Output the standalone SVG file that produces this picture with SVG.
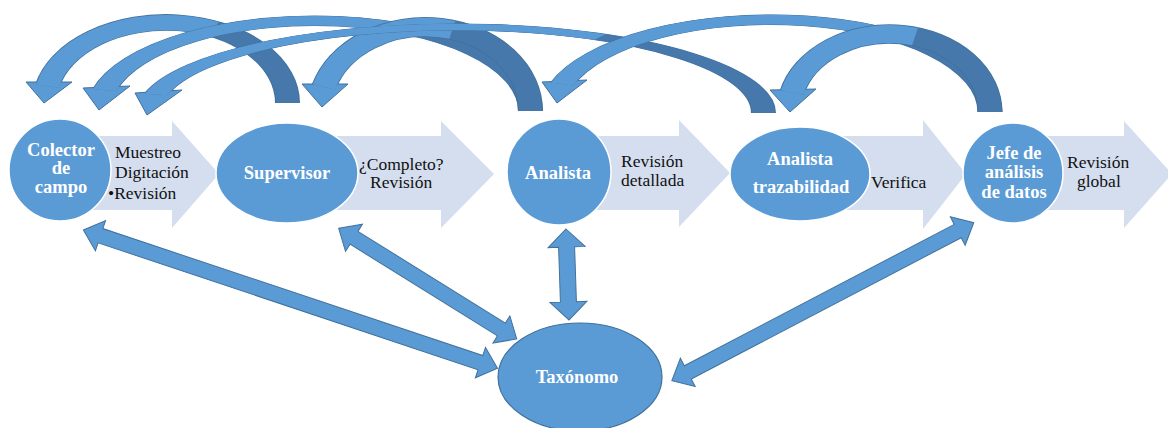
<svg xmlns="http://www.w3.org/2000/svg" width="1168" height="428" viewBox="0 0 1168 428">
<style>
.flow{fill:#D4DEEF}
.node{fill:#5B9BD5;stroke:#ffffff;stroke-width:1.5}
.tax{fill:#5B9BD5;stroke:#41719C;stroke-width:1.2}
.ntext{font-family:"Liberation Serif",serif;font-weight:bold;font-size:18.5px;fill:#ffffff;text-anchor:middle}
.ltext{font-family:"Liberation Serif",serif;font-size:17.5px;fill:#111111}
.dbl{fill:#5B9BD5;stroke:#41719C;stroke-width:1}
.edge{fill:none;stroke:#41719C;stroke-width:25}
.dark{fill:none;stroke:#4778AC;stroke-width:23}
.light{fill:none;stroke:#5B9BD5;stroke-width:23}
.head{fill:#5B9BD5;stroke:#41719C;stroke-width:1}
</style>
<rect width="1168" height="428" fill="#ffffff"/>
<g id="flow-arrows">
<polygon class="flow" points="60,136 172,136 172,121 219,174 172,228 172,210 60,210"/>
<polygon class="flow" points="287,136 441,136 441,121 494,174 441,228 441,210 287,210"/>
<polygon class="flow" points="559,136 679,136 679,120 730,173 679,227 679,210 559,210"/>
<polygon class="flow" points="800,136 923,136 923,120 966,174 923,229 923,210 800,210"/>
<polygon class="flow" points="1013,136 1124,136 1124,121 1172,174 1124,228 1124,210 1013,210"/>
</g>
<g id="connectors">
<g id="curve-sup-col">
<g transform="translate(166.1,103) scale(1,0.663)"><path class="edge" d="M121.4,0 A121.4,121.4 0 0 0 -118.7,-25.6"/></g>
<polygon class="head" points="26,82 72,82 44,103"/>
<g transform="translate(166.1,103) scale(1,0.663)"><path class="dark" d="M121.4,0 A121.4,121.4 0 0 0 -118.7,-25.6"/><path class="light" d="M48,-111.5 A121.4,121.4 0 0 0 -118.7,-25.6"/></g>
</g>
<g id="curve-ana-col">
<g transform="translate(314.6,111) scale(1,0.418)"><path class="edge" d="M215.9,0 A215.9,215.9 0 0 0 -210,-50.2"/></g>
<polygon class="head" points="83,88 130,86 99,110"/>
<g transform="translate(314.6,111) scale(1,0.418)"><path class="dark" d="M215.9,0 A215.9,215.9 0 0 0 -210,-50.2"/><path class="light" d="M105.4,-188.4 A215.9,215.9 0 0 0 -210,-50.2"/></g>
</g>
<g id="curve-ana-sup">
<g transform="translate(425,111) scale(1,0.796)"><path class="edge" d="M105.5,0 A105.5,105.5 0 0 0 -101.1,-30.2"/></g>
<polygon class="head" points="302,84 348,84 322,107"/>
<g transform="translate(425,111) scale(1,0.796)"><path class="dark" d="M105.5,0 A105.5,105.5 0 0 0 -101.1,-30.2"/><path class="light" d="M27.3,-101.9 A105.5,105.5 0 0 0 -101.1,-30.2"/></g>
</g>
<g id="curve-traz-col">
<g transform="translate(456.1,113) scale(1,0.2798)"><path class="edge" d="M307.4,0 A307.4,307.4 0 0 0 -300.2,-66.1"/></g>
<polygon class="head" points="135,93 182,90 147,115"/>
<g transform="translate(456.1,113) scale(1,0.2798)"><path class="dark" d="M307.4,0 A307.4,307.4 0 0 0 -300.2,-66.1"/><path class="light" d="M143.9,-271.7 A307.4,307.4 0 0 0 -300.2,-66.1"/></g>
</g>
<g id="curve-jefe-ana">
<g transform="translate(770.9,112) scale(1,0.421)"><path class="edge" d="M219.1,0 A219.1,219.1 0 0 0 -208.8,-66.5"/></g>
<polygon class="head" points="542,82 587,80 557,103"/>
<g transform="translate(770.9,112) scale(1,0.421)"><path class="dark" d="M219.1,0 A219.1,219.1 0 0 0 -208.8,-66.5"/><path class="light" d="M101.1,-194.4 A219.1,219.1 0 0 0 -208.8,-66.5"/></g>
</g>
<g id="curve-jefe-traz">
<g transform="translate(889.4,112) scale(1,0.775)"><path class="edge" d="M100.6,0 A100.6,100.6 0 0 0 -97.4,-25.2"/></g>
<polygon class="head" points="770,90 816,89 790,112"/>
<g transform="translate(889.4,112) scale(1,0.775)"><path class="dark" d="M100.6,0 A100.6,100.6 0 0 0 -97.4,-25.2"/><path class="light" d="M25.6,-97.3 A100.6,100.6 0 0 0 -97.4,-25.2"/></g>
</g>
<g transform="translate(83.4,230) rotate(18.47)"><polygon class="dbl" points="0,0 18,-16 18,-7.5 418.6,-7.5 418.6,-16 436.6,0 418.6,16 418.6,7.5 18,7.5 18,16"/></g>
<g transform="translate(338.7,228.3) rotate(31.87)"><polygon class="dbl" points="0,0 18,-16 18,-7.5 191.6,-7.5 191.6,-16 209.6,0 191.6,16 191.6,7.5 18,7.5 18,16"/></g>
<g transform="translate(566,229) rotate(88.1)"><polygon class="dbl" points="0,0 18,-18.5 18,-8 73,-8 73,-18.5 91,0 73,18.5 73,8 18,8 18,18.5"/></g>
<g transform="translate(973.7,222.7) rotate(152.37)"><polygon class="dbl" points="0,0 18,-16 18,-7.5 322.7,-7.5 322.7,-16 340.7,0 322.7,16 322.7,7.5 18,7.5 18,16"/></g>
</g>
<g id="labels">
<text class="ltext" x="115" y="158">Muestreo</text>
<text class="ltext" x="115" y="178">Digitación</text>
<text class="ltext" x="108" y="199">•Revisión</text>
<text class="ltext" x="359" y="170">¿Completo?</text>
<text class="ltext" x="370" y="188">Revisión</text>
<text class="ltext" x="621" y="167">Revisión</text>
<text class="ltext" x="621" y="186">detallada</text>
<text class="ltext" x="871" y="188">Verifica</text>
<text class="ltext" x="1067" y="168">Revisión</text>
<text class="ltext" x="1077" y="187">global</text>
</g>
<g id="node-colector">
<circle class="node" cx="60" cy="170" r="51"/>
<text class="ntext" x="61" y="156">Colector</text>
<text class="ntext" x="61" y="174">de</text>
<text class="ntext" x="61" y="193">campo</text>
</g>
<g id="node-supervisor">
<ellipse class="node" cx="287" cy="173" rx="71" ry="50"/>
<text class="ntext" x="287" y="179">Supervisor</text>
</g>
<g id="node-analista">
<ellipse class="node" cx="559" cy="172" rx="52" ry="53"/>
<text class="ntext" x="558" y="179">Analista</text>
</g>
<g id="node-trazabilidad">
<ellipse class="node" cx="800" cy="174" rx="70" ry="47"/>
<text class="ntext" x="800" y="165">Analista</text>
<text class="ntext" x="801" y="193">trazabilidad</text>
</g>
<g id="node-jefe">
<circle class="node" cx="1013" cy="173" r="50"/>
<text class="ntext" x="1014" y="159">Jefe de</text>
<text class="ntext" x="1014" y="178">análisis</text>
<text class="ntext" x="1014" y="198">de datos</text>
</g>
<g id="node-taxonomo">
<ellipse class="tax" cx="580" cy="377" rx="82" ry="54"/>
<text class="ntext" x="577" y="383">Taxónomo</text>
</g>
</svg>
